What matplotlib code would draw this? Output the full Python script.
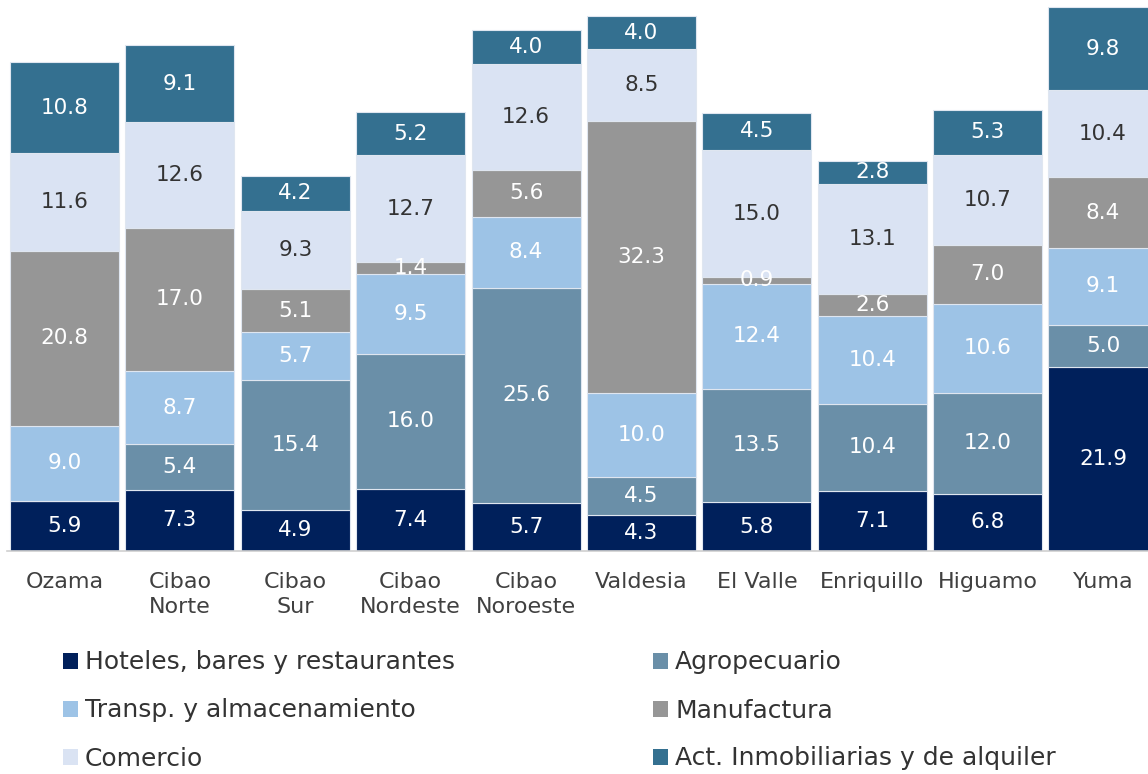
import matplotlib
matplotlib.use("Agg")
import matplotlib.pyplot as plt
import numpy as np
from matplotlib.patches import Patch

plt.rcParams["font.family"] = ["DejaVu Sans"]

REGIONS = ["Ozama", "Cibao\nNorte", "Cibao\nSur", "Cibao\nNordeste", "Cibao\nNoroeste",
           "Valdesia", "El Valle", "Enriquillo", "Higuamo", "Yuma"]

hoteles = [5.9, 7.3, 4.9, 7.4, 5.7, 4.3, 5.8, 7.1, 6.8, 21.9]
agro = [0.0, 5.4, 15.4, 16.0, 25.6, 4.5, 13.5, 10.4, 12.0, 5.0]
transp = [9.0, 8.7, 5.7, 9.5, 8.4, 10.0, 12.4, 10.4, 10.6, 9.1]
manuf = [20.8, 17.0, 5.1, 1.4, 5.6, 32.3, 0.9, 2.6, 7.0, 8.4]
comercio = [11.6, 12.6, 9.3, 12.7, 12.6, 8.5, 15.0, 13.1, 10.7, 10.4]
inmob = [10.8, 9.1, 4.2, 5.2, 4.0, 4.0, 4.5, 2.8, 5.3, 9.8]

SERIES = [
    ("Hoteles, bares y restaurantes", hoteles, "#00205b", "white"),
    ("Agropecuario", agro, "#6a8fa8", "white"),
    ("Transp. y almacenamiento", transp, "#9dc3e6", "white"),
    ("Manufactura", manuf, "#969696", "white"),
    ("Comercio", comercio, "#dae3f3", "#333333"),
    ("Act. Inmobiliarias y de alquiler", inmob, "#347090", "white"),
]

fig = plt.figure(figsize=(11.48, 7.74), dpi=100)
ax = fig.add_axes([7 / 1148, 1 - 551 / 774, 1141 / 1148, 547 / 774])

x = np.arange(len(REGIONS))
bottom = np.zeros(len(REGIONS))
for name, vals, color, tcolor in SERIES:
    vals = np.array(vals)
    ax.bar(x, vals, width=0.945, bottom=bottom, color=color,
           edgecolor="#dfe6f0", linewidth=0.8, label=name)
    for xi, b, v in zip(x, bottom, vals):
        if v > 0:
            ax.text(xi, b + v / 2, f"{v:.1f}", ha="center", va="center",
                    fontsize=15.5, color=tcolor)
    bottom += vals

ax.set_xlim(-0.498, 9.39)
ax.set_ylim(0, 65)
ax.set_yticks([])
ax.set_xticks(x)
ax.set_xticklabels(REGIONS, fontsize=16, color="#404040", linespacing=1.3)
ax.tick_params(axis="x", length=0, pad=15)
for side in ["top", "right", "left"]:
    ax.spines[side].set_visible(False)
ax.spines["bottom"].set_color("#d0d0d0")
ax.spines["bottom"].set_linewidth(1.2)

# legend is filled column-wise, so interleave to get the reference's row order
order = [0, 2, 4, 1, 3, 5]
handles = [Patch(facecolor=SERIES[i][2], edgecolor="none") for i in order]
labels = [SERIES[i][0] for i in order]
fig.legend(handles, labels, ncol=2, loc="upper left",
           bbox_to_anchor=(40 / 1148, 1 - 628 / 774), frameon=False,
           fontsize=18, handlelength=0.6, handleheight=0.6, handletextpad=0.3,
           columnspacing=7.9, labelspacing=0.96, labelcolor="#333333")

fig.savefig("out.png", dpi=100)
